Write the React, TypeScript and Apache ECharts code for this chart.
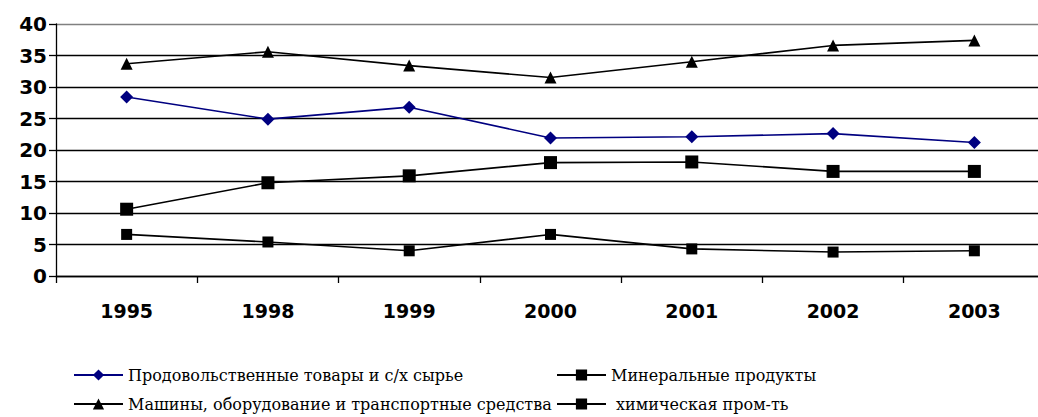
import React, { useEffect, useRef } from "react";
import * as echarts from "echarts";

const years = ["1995", "1998", "1999", "2000", "2001", "2002", "2003"];
const yTicks = [0, 5, 10, 15, 20, 25, 30, 35, 40];
const food = [28.4, 24.9, 26.8, 21.9, 22.1, 22.6, 21.2];
const mineral = [6.6, 5.4, 4.0, 6.6, 4.3, 3.8, 4.0];
const machines = [33.7, 35.6, 33.4, 31.5, 34.0, 36.6, 37.4];
const chem = [10.6, 14.8, 15.9, 18.0, 18.1, 16.6, 16.6];

const names = {
  food: "Продовольственные товары и с/х сырье",
  mineral: "Минеральные продукты",
  machines: "Машины, оборудование и транспортные средства",
  chem: "химическая пром-ть",
};

export default function App() {
  const ref = useRef<HTMLDivElement>(null);
  useEffect(() => {
    if (!ref.current) return;
    const chart = echarts.init(ref.current, undefined, { renderer: "svg" });
    const gridColors = yTicks.map((v) => (v === 40 ? "#808080" : "#000000"));
    const legendText = {
      fontFamily: "DejaVu Serif",
      fontSize: 16,
      color: "#000",
    };
    chart.setOption({
      animation: false,
      backgroundColor: "#ffffff",
      grid: { left: 56, top: 24, height: 252, width: 989 },
      xAxis: {
        type: "category",
        data: years,
        boundaryGap: true,
        axisLine: { lineStyle: { color: "#000", width: 1.3 } },
        axisTick: { show: true, length: 7, lineStyle: { color: "#000", width: 1.3 } },
        axisLabel: {
          margin: 25,
          fontFamily: "DejaVu Sans",
          fontWeight: "bold",
          fontSize: 19,
          color: "#000",
        },
      },
      yAxis: {
        type: "value",
        min: 0,
        max: 40,
        interval: 5,
        axisLine: { show: true, lineStyle: { color: "#000", width: 1.3 } },
        axisTick: { show: true, length: 7, lineStyle: { color: "#000", width: 1.3 } },
        splitLine: { show: true, lineStyle: { color: gridColors, width: 1.3 } },
        axisLabel: {
          margin: 9,
          fontFamily: "DejaVu Sans",
          fontWeight: "bold",
          fontSize: 20,
          color: "#000",
        },
      },
      legend: [
        {
          orient: "vertical",
          left: 73,
          top: 367,
          height: 120,
          padding: 0,
          itemWidth: 49,
          itemHeight: 14,
          itemGap: 13,
          data: [names.food, names.machines],
          textStyle: legendText,
        },
        {
          orient: "vertical",
          left: 556,
          top: 367,
          height: 120,
          padding: 0,
          itemWidth: 49,
          itemHeight: 14,
          itemGap: 13,
          data: [names.mineral, names.chem],
          textStyle: legendText,
          formatter: (n: string) => (n === names.chem ? " " + n : n),
        },
      ],
      series: [
        {
          name: names.food,
          type: "line",
          data: food,
          symbol: "diamond",
          symbolSize: 13,
          lineStyle: { color: "#000080", width: 1.6 },
          itemStyle: { color: "#000080" },
        },
        {
          name: names.mineral,
          type: "line",
          data: mineral,
          symbol: "rect",
          symbolSize: 11,
          lineStyle: { color: "#000", width: 1.6 },
          itemStyle: { color: "#000" },
        },
        {
          name: names.machines,
          type: "line",
          data: machines,
          symbol: "triangle",
          symbolSize: 12,
          lineStyle: { color: "#000", width: 1.6 },
          itemStyle: { color: "#000" },
        },
        {
          name: names.chem,
          type: "line",
          data: chem,
          symbol: "rect",
          symbolSize: 13,
          lineStyle: { color: "#000", width: 1.6 },
          itemStyle: { color: "#000" },
        },
      ],
    });
    return () => chart.dispose();
  }, []);
  return (
    <div
      style={{
        position: "fixed",
        left: 0,
        top: 0,
        width: 1038,
        height: 417,
        overflow: "hidden",
        background: "#fff",
      }}
    >
      <div ref={ref} style={{ width: 1050, height: 417 }} />
    </div>
  );
}
